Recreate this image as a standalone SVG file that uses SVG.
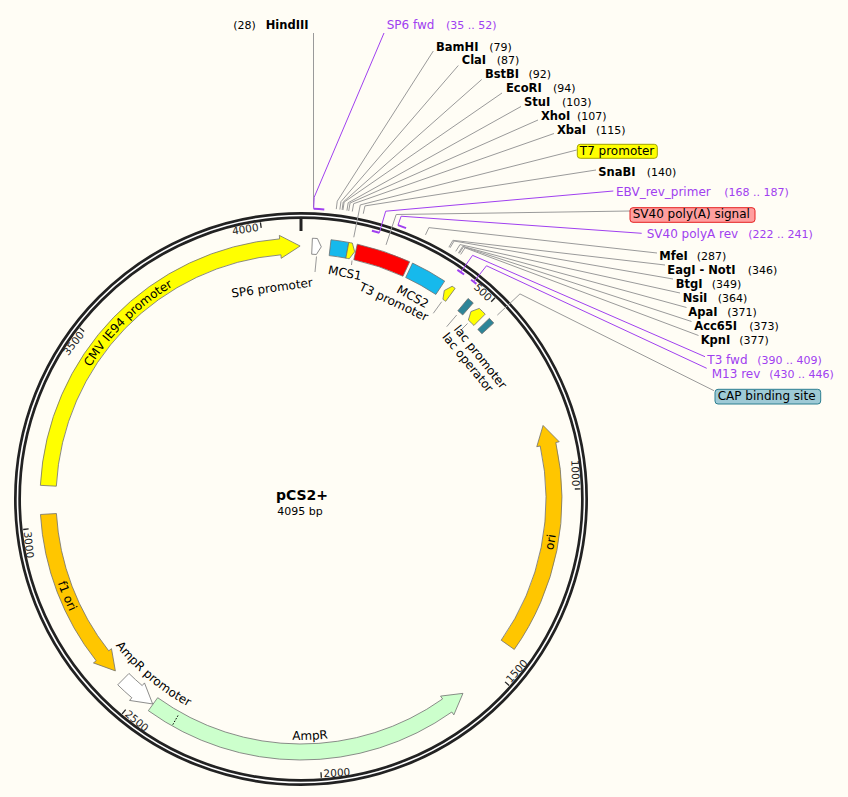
<svg xmlns="http://www.w3.org/2000/svg" width="848" height="797" viewBox="0 0 848 797">
<style>
text { font-family: "DejaVu Sans", Verdana, sans-serif; }
.tick { stroke: #222; stroke-width: 1.3; }
.tl { font-size: 10.5px; fill: #222; }
.feat { stroke: #707070; stroke-width: 0.8; stroke-linejoin: round; }
.lead { fill: none; stroke: #9a9a9a; stroke-width: 1; }
.plead { fill: none; stroke: #a040f0; stroke-width: 1; }
.primer { fill: none; stroke: #a040f0; stroke-width: 2; }
.enz { font-size: 11.5px; font-weight: bold; fill: #000; }
.num { font-size: 11px; fill: #000; }
.pname { font-size: 12px; fill: #a040f0; }
.pnum { font-size: 11px; fill: #a040f0; }
.lbl { font-size: 12px; fill: #000; }
.yel { fill: #ffff00; }
.orn { fill: #ffc600; }
.cyn { fill: #16b9ec; }
.teal { fill: #2d8598; }
</style>
<defs>
<path id="p-cmv" d="M53.64,475.18 A248.5,248.5 0 0 1 281.5,251.27"/>
<path id="p-f1" d="M45.9,465.41 A257.3,257.3 0 0 0 144.37,703.13"/>
<path id="p-ori" d="M498.68,663.7 A257.3,257.3 0 0 0 542.47,410.15"/>
<path id="p-amp" d="M188.6,712.18 A241,241 0 0 0 429.42,702.93"/>
<path id="p-ampp" d="M78.81,579.43 A236.3,236.3 0 0 0 259.56,731.64"/>
</defs>
<rect x="0" y="0" width="848" height="797" fill="#fffdf5"/>

<g id="backbone">
<circle cx="301" cy="499" r="283.5" fill="none" stroke="#222" stroke-width="7"/>
<circle cx="301" cy="499" r="283.5" fill="none" stroke="#ffffff" stroke-width="1.6"/>
<line x1="301" y1="218" x2="301" y2="231" stroke="#222" stroke-width="3"/>
<g class="tick">
<line x1="301" y1="219.5" x2="301" y2="225" transform="rotate(43.956 301 499)"/>
<line x1="301" y1="219.5" x2="301" y2="225" transform="rotate(87.912 301 499)"/>
<line x1="301" y1="219.5" x2="301" y2="225" transform="rotate(131.868 301 499)"/>
<line x1="301" y1="219.5" x2="301" y2="225" transform="rotate(175.824 301 499)"/>
<line x1="301" y1="219.5" x2="301" y2="225" transform="rotate(219.78 301 499)"/>
<line x1="301" y1="219.5" x2="301" y2="225" transform="rotate(263.736 301 499)"/>
<line x1="301" y1="219.5" x2="301" y2="225" transform="rotate(307.692 301 499)"/>
<line x1="301" y1="219.5" x2="301" y2="225" transform="rotate(351.648 301 499)"/>
</g>
<text class="tl" x="298.5" y="227.5" text-anchor="end" transform="rotate(43.956 301 499)">500</text>
<text class="tl" x="298.5" y="227.5" text-anchor="end" transform="rotate(87.912 301 499)">1000</text>
<text class="tl" x="303.5" y="778.3" transform="rotate(-48.132 301 499)">1500</text>
<text class="tl" x="303.5" y="778.3" transform="rotate(-4.176 301 499)">2000</text>
<text class="tl" x="303.5" y="778.3" transform="rotate(39.78 301 499)">2500</text>
<text class="tl" x="303.5" y="778.3" transform="rotate(83.736 301 499)">3000</text>
<text class="tl" x="298.5" y="227.5" text-anchor="end" transform="rotate(-52.308 301 499)">3500</text>
<text class="tl" x="298.5" y="227.5" text-anchor="end" transform="rotate(-8.352 301 499)">4000</text>
</g>

<g id="title">
<text x="302" y="500" text-anchor="middle" font-size="14" font-weight="bold" fill="#000">pCS2+</text>
<text x="300" y="515" text-anchor="middle" font-size="11" fill="#000">4095 bp</text>
</g>

<g id="connectors">
<path class="lead" d="M313.5,33 L313.5,207.3"/>
<path class="lead" d="M433.3,51 L337.25,201.2 L336.28,209.14"/>
<path class="lead" d="M458.3,65.5 L340.94,201.67 L339.87,209.6"/>
<path class="lead" d="M481.7,79.5 L343.22,201.99 L342.09,209.91"/>
<path class="lead" d="M502,93 L344.1,202.11 L342.95,210.03"/>
<path class="lead" d="M521,106.5 L348.19,202.74 L346.93,210.64"/>
<path class="lead" d="M538,120 L350.05,203.04 L348.74,210.93"/>
<path class="lead" d="M554,133.5 L353.66,203.66 L352.26,211.53"/>
<path class="lead" d="M576.7,150 L360.3,204.92 L353.78,237.27"/>
<path class="lead" d="M596,170 L364.96,205.9 L363.25,213.71"/>
<path class="lead" d="M630,211 L396.19,214.5 L386.04,244.85"/>
<path class="lead" d="M657,253 L428.88,227.62 L425.47,234.86"/>
<path class="lead" d="M665,265 L452.91,240.3 L448.86,247.2"/>
<path class="lead" d="M673,279 L454.08,241 L450,247.88"/>
<path class="lead" d="M680,293 L459.98,244.59 L455.74,251.37"/>
<path class="lead" d="M686.5,307.5 L462.72,246.33 L458.41,253.06"/>
<path class="lead" d="M691.5,321.5 L463.47,246.81 L459.14,253.53"/>
<path class="lead" d="M698.5,335.5 L465.01,247.8 L460.63,254.5"/>
<path class="lead" d="M714,390.7 L519.96,293.92 L497.33,315.11"/>
<path class="lead" d="M316.5,256.5 L315,272"/>
<path class="lead" d="M352,260.5 L351.5,265"/>
<path class="lead" d="M441.7,301.7 L433.3,313.3"/>
<path class="lead" d="M456.7,315 L446.7,326.7"/>
<path class="lead" d="M467.5,323.5 L461,330"/>
<path class="plead" d="M384,33 L314.17,197.29 L313.67,208.78"/>
<path class="plead" d="M613.3,191 L385.7,211.2 L379.35,232.79"/>
<path class="plead" d="M641.7,233.3 L401.14,216.21 L397.97,225.16"/>
<path class="plead" d="M705,356.7 L472.58,255.35 L460.78,272.11"/>
<path class="plead" d="M706.7,368.3 L486.5,265.78 L473.75,281.83"/>
</g>

<g id="cmv-ie94-promoter">
<path class="feat yel" d="M40.36,485.34 A261,261 0 0 1 279.61,238.88 L279.33,235.39 L300.12,246 L281.21,258.31 L280.92,254.82 A245,245 0 0 0 56.34,486.18 Z"/>
<text class="lbl" text-anchor="middle"><textPath href="#p-cmv" startOffset="50%">CMV IE94 promoter</textPath></text>
</g>
<g id="f1-ori">
<path class="feat orn" d="M40.46,514.48 A261,261 0 0 0 96.17,660.75 L93.43,662.92 L115.37,670.9 L111.48,648.66 L108.73,650.83 A245,245 0 0 1 56.43,513.53 Z"/>
<text class="lbl" text-anchor="middle"><textPath href="#p-f1" startOffset="50%">f1 ori</textPath></text>
</g>
<g id="ampr-promoter">
<path class="feat" fill="#ffffff" d="M117.74,684.84 A261,261 0 0 0 131.84,697.76 L129.57,700.43 L152.65,703.94 L144.48,682.91 L142.21,685.58 A245,245 0 0 1 128.97,673.45 Z"/>
<text class="lbl" text-anchor="middle"><textPath href="#p-ampp" startOffset="50%">AmpR promoter</textPath></text>
</g>
<g id="ampr">
<path class="feat" fill="#ccffcc" d="M148.33,710.69 A261,261 0 0 0 451.82,712.01 L453.84,714.87 L462.95,693.37 L440.55,696.1 L442.58,698.95 A245,245 0 0 1 157.68,697.71 Z"/>
<line x1="178.01" y1="715.5" x2="172.08" y2="725.94" stroke="#000" stroke-width="1" stroke-dasharray="1.5 1.5"/>
<text class="lbl" text-anchor="middle"><textPath href="#p-amp" startOffset="50%">AmpR</textPath></text>
</g>
<g id="ori">
<path class="feat orn" d="M514.27,649.45 A261,261 0 0 0 555.81,442.51 L559.23,441.75 L543.07,425.45 L536.78,446.73 L540.19,445.97 A245,245 0 0 1 501.2,640.23 Z"/>
<text class="lbl" text-anchor="middle"><textPath href="#p-ori" startOffset="50%">ori</textPath></text>
</g>
<g id="sp6-promoter">
<path class="feat" fill="#ffffff" d="M312.38,238.25 A261,261 0 0 1 317.39,238.51 L321.29,246.81 L316.38,254.48 A245,245 0 0 0 311.69,254.23 Z"/>
<text class="lbl" x="301" y="290" text-anchor="middle" transform="rotate(-7.8 301 499)">SP6 promoter</text>
</g>
<g id="mcs1">
<path class="feat cyn" d="M331,239.73 A261,261 0 0 1 348.79,242.41 L345.86,258.14 A245,245 0 0 0 329.16,255.62 Z"/>
<text class="lbl" x="301" y="272.8" text-anchor="middle" transform="rotate(11 301 499)">MCS1</text>
</g>
<g id="t7-promoter">
<path class="feat yel" d="M348.79,242.41 A261,261 0 0 1 352.36,243.11 L354.68,251.76 L349.22,258.79 A245,245 0 0 0 345.86,258.14 Z"/>
<rect x="577.3" y="144.3" width="80" height="14" rx="3" fill="#ffff00" stroke="#a3a300" stroke-width="1"/>
<text class="lbl" x="579.8" y="154.8">T7 promoter</text>
</g>
<g id="sv40-polya-signal">
<path class="feat" fill="#ff0000" d="M357.27,244.14 A261,261 0 0 1 409.65,261.69 L402.99,276.24 A245,245 0 0 0 353.82,259.76 Z"/>
<rect x="630" y="207.7" width="125" height="14.6" rx="3" fill="#ff9f9f" stroke="#e52020" stroke-width="1"/>
<text class="lbl" x="632.7" y="218.3">SV40 poly(A) signal</text>
</g>
<g id="mcs2">
<path class="feat cyn" d="M412.54,263.04 A261,261 0 0 1 444.68,281.1 L435.87,294.46 A245,245 0 0 0 405.7,277.5 Z"/>
<text class="lbl" x="301" y="272" text-anchor="middle" transform="rotate(28.9 301 499)">MCS2</text>
</g>
<g id="t3-promoter">
<path class="feat yel" d="M455.15,288.38 A261,261 0 0 0 452.19,286.25 L444.3,290.5 L442.92,299.29 A245,245 0 0 1 445.7,301.29 Z"/>
<text class="lbl" x="301" y="285.2" text-anchor="middle" transform="rotate(25.2 301 499)">T3 promoter</text>
</g>
<g id="lac-operator">
<path class="feat teal" d="M468.07,298.48 A261,261 0 0 1 473.29,302.94 L462.73,314.96 A245,245 0 0 0 457.83,310.77 Z"/>
<text class="lbl" x="301" y="287.5" text-anchor="middle" transform="rotate(50.7 301 499)">lac operator</text>
</g>
<g id="lac-promoter">
<path class="feat yel" d="M485.23,314.12 A261,261 0 0 0 479.28,308.38 L470.93,311.56 L468.35,320.06 A245,245 0 0 1 473.94,325.46 Z"/>
<text class="lbl" x="301" y="274.3" text-anchor="middle" transform="rotate(51.6 301 499)">lac promoter</text>
</g>
<g id="cap-binding-site">
<path class="feat teal" d="M489.38,318.35 A261,261 0 0 1 493.74,323.01 L481.92,333.8 A245,245 0 0 0 477.83,329.43 Z"/>
<rect x="715" y="389.3" width="105.7" height="14.7" rx="3" fill="#9ecad6" stroke="#2d7f90" stroke-width="1"/>
<text class="lbl" x="717.7" y="400">CAP binding site</text>
</g>

<g id="primer-sp6-fwd">
<path class="primer" d="M313.67,208.78 A290.5,290.5 0 0 1 324.3,209.44"/>
<text class="pname" x="386.7" y="28.7">SP6 fwd</text><text class="pnum" x="446" y="28.7">(35 .. 52)</text>
</g>
<g id="primer-ebv-rev">
<path class="primer" d="M371.89,230.7 A277.5,277.5 0 0 1 379.35,232.79"/>
<text class="pname" x="616" y="195.5">EBV_rev_primer</text><text class="pnum" x="724.3" y="195.5">(168 .. 187)</text>
</g>
<g id="primer-sv40-polya-rev">
<path class="primer" d="M397.97,225.16 A290.5,290.5 0 0 1 406.05,228.15"/>
<text class="pname" x="646.7" y="238.2">SV40 polyA rev</text><text class="pnum" x="748.3" y="238.2">(222 .. 241)</text>
</g>
<g id="primer-t3-fwd">
<path class="primer" d="M457.4,269.8 A277.5,277.5 0 0 1 464.1,274.5"/>
<text class="pname" x="707.3" y="364">T3 fwd</text><text class="pnum" x="757.3" y="364">(390 .. 409)</text>
</g>
<g id="primer-m13-rev">
<path class="primer" d="M471.1,279.7 A277.5,277.5 0 0 1 476.4,283.9"/>
<text class="pname" x="711.7" y="378.2">M13 rev</text><text class="pnum" x="769.3" y="378.2">(430 .. 446)</text>
</g>

<g id="site-hindiii"><text class="num" x="233.3" y="28.7">(28)</text><text class="enz" x="265.7" y="28.7">HindIII</text></g>
<g id="site-bamhi"><text class="enz" x="436" y="50.5">BamHI</text><text class="num" x="489.3" y="50.5">(79)</text></g>
<g id="site-clai"><text class="enz" x="461.7" y="64.4">ClaI</text><text class="num" x="496.7" y="64.4">(87)</text></g>
<g id="site-bstbi"><text class="enz" x="485" y="78.3">BstBI</text><text class="num" x="528.5" y="78.3">(92)</text></g>
<g id="site-ecori"><text class="enz" x="506" y="92.2">EcoRI</text><text class="num" x="553" y="92.2">(94)</text></g>
<g id="site-stui"><text class="enz" x="524" y="106.1">StuI</text><text class="num" x="562" y="106.1">(103)</text></g>
<g id="site-xhoi"><text class="enz" x="541" y="120">XhoI</text><text class="num" x="577" y="120">(107)</text></g>
<g id="site-xbai"><text class="enz" x="557" y="133.9">XbaI</text><text class="num" x="596" y="133.9">(115)</text></g>
<g id="site-snabi"><text class="enz" x="598.3" y="176">SnaBI</text><text class="num" x="646.7" y="176">(140)</text></g>
<g id="site-mfei"><text class="enz" x="659.3" y="260">MfeI</text><text class="num" x="696.7" y="260">(287)</text></g>
<g id="site-eagi-noti"><text class="enz" x="667.3" y="274">EagI - NotI</text><text class="num" x="747.7" y="274">(346)</text></g>
<g id="site-btgi"><text class="enz" x="675.7" y="288">BtgI</text><text class="num" x="711.7" y="288">(349)</text></g>
<g id="site-nsii"><text class="enz" x="682.7" y="302">NsiI</text><text class="num" x="717.7" y="302">(364)</text></g>
<g id="site-apai"><text class="enz" x="688.3" y="316">ApaI</text><text class="num" x="727.3" y="316">(371)</text></g>
<g id="site-acc65i"><text class="enz" x="694.3" y="330">Acc65I</text><text class="num" x="749.3" y="330">(373)</text></g>
<g id="site-kpni"><text class="enz" x="700.7" y="344">KpnI</text><text class="num" x="739.3" y="344">(377)</text></g>
</svg>
